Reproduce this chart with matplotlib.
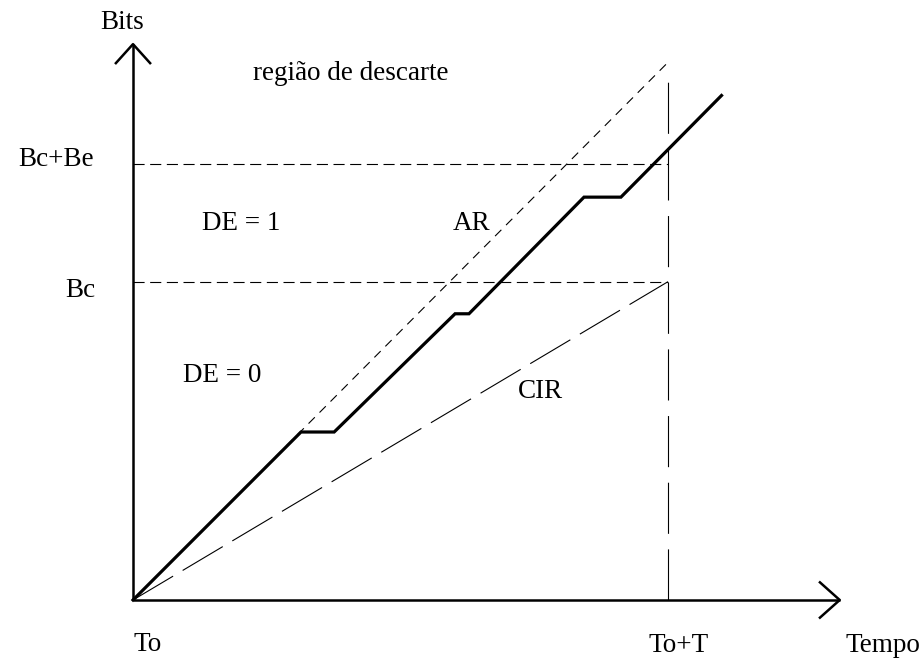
import matplotlib
matplotlib.use("Agg")
import matplotlib.pyplot as plt

# diagram values (time in units where T = 100, bits on the same scale)
T = 100
Bc = 59.5
Be = 22
ar_end = (100, 100.5)

# access rate (bits sent) with idle pauses
access_x = [0, 31.4, 37.6, 60.2, 62.8, 84.3, 91.2, 110]
access_y = [0, 31.4, 31.4, 53.5, 53.5, 75.3, 75.3, 94.3]

x_axis_end = 132.1
y_axis_end = 103.9
t_line_top = 97.4

# text, x, y, horizontal alignment
labels = [
    ("Bits", -6.2, 106.7, "left"),
    ("região de descarte", 22.4, 97.2, "left"),
    ("Bc+Be", -7.3, Bc + Be - 0.3, "right"),
    ("Bc", -7.1, Bc - 2.9, "right"),
    ("DE = 1", 12.9, 69.2, "left"),
    ("DE = 0", 9.3, 40.7, "left"),
    ("AR", 59.8, 69.2, "left"),
    ("CIR", 72.0, 37.8, "left"),
    ("To", 0, -9.5, "left"),
    ("To+T", 96.3, -9.7, "left"),
    ("Tempo", 133.1, -9.7, "left"),
]

scale = 5.35  # pixels per unit
fig = plt.figure(figsize=(9.23, 6.59), dpi=100)
ax = fig.add_axes([0, 0, 1, 1])
ax.set_xlim(-133 / scale, (923 - 133) / scale)
ax.set_ylim((600 - 659) / scale, 600 / scale)
ax.axis("off")

# axes with open arrow heads
ax.plot([0, 0], [0, y_axis_end], color="black", lw=1.8, solid_capstyle="butt")
ax.plot([0, x_axis_end], [0, 0], color="black", lw=1.8, solid_capstyle="butt")
ax.plot([-3.2, 0, 3.2], [y_axis_end - 3.55, y_axis_end, y_axis_end - 3.55],
        color="black", lw=1.8)
ax.plot([x_axis_end - 3.7, x_axis_end, x_axis_end - 3.7], [3.3, 0, -3.3],
        color="black", lw=1.8)

# AR line
ax.plot([0, ar_end[0]], [0, ar_end[1]], color="black", lw=0.8,
        dashes=(8, 6))
# CIR line
ax.plot([0, T], [0, Bc], color="black", lw=0.8, dashes=(42, 10))
# Bc and Bc+Be levels
ax.plot([0, T], [Bc, Bc], color="black", lw=0.8, dashes=(10, 5))
ax.plot([0, T], [Bc + Be, Bc + Be], color="black", lw=0.8, dashes=(10, 5))
# T marker
ax.plot([T, T], [0, t_line_top], color="black", lw=0.8, dashes=(46, 14))

# traffic sent
ax.plot(access_x, access_y, color="black", lw=2.3, solid_joinstyle="miter")

for txt, x, y, ha in labels:
    ax.text(x, y, txt, fontsize=19.5, family="Liberation Serif",
            ha=ha, va="baseline")

fig.savefig("out.png", dpi=100)
